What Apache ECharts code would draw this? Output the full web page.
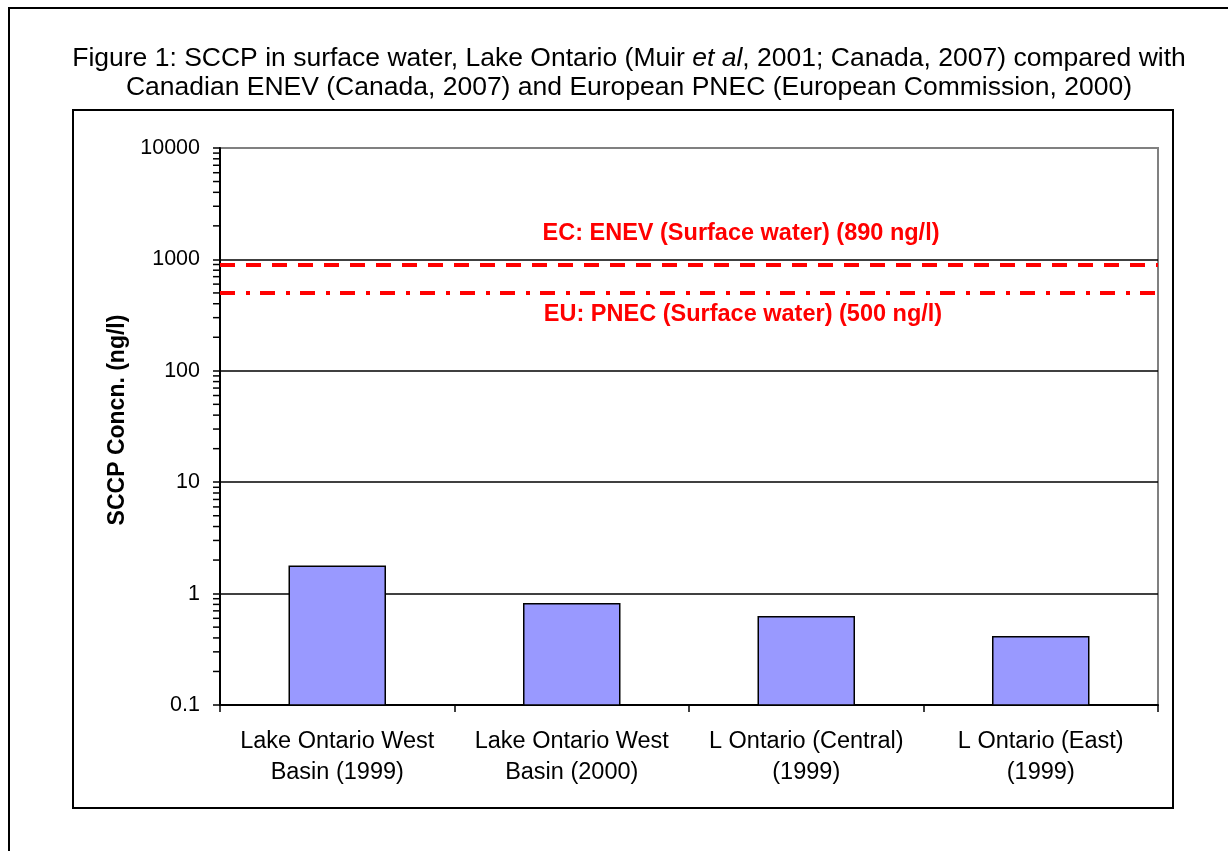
<!DOCTYPE html>
<html>
<head>
<meta charset="utf-8">
<title>SCCP in surface water, Lake Ontario</title>
<script src="https://cdn.jsdelivr.net/npm/echarts@6/dist/echarts.min.js"></script>
<style>
  html, body { margin: 0; padding: 0; background: #ffffff; }
  #chart { width: 1228px; height: 851px; }
</style>
</head>
<body>
<div id="chart"></div>
<script>
// Sampling sites and measured SCCP concentrations (ng/l)
const categories = [
  'Lake Ontario West\nBasin (1999)',
  'Lake Ontario West\nBasin (2000)',
  'L Ontario (Central)\n(1999)',
  'L Ontario (East)\n(1999)'
];
const concentrations = [1.76, 0.81, 0.62, 0.41];

// Reference thresholds (ng/l)
const enevValue = 890;
const pnecValue = 500;

// Log-axis range, decades and minor tick multipliers
const axisMin = 0.1;
const axisMax = 10000;
const decades = [0.1, 1, 10, 100, 1000];
const minorMultipliers = [2, 3, 4, 5, 6, 7, 8, 9];

const FONT = '"Liberation Sans", Arial, sans-serif';
const BAR_WIDTH = 96;

const minorTickValues = [];
decades.forEach(d => minorMultipliers.forEach(m => minorTickValues.push(+(d * m).toPrecision(3))));

const chart = echarts.init(document.getElementById('chart'), null, { renderer: 'canvas' });

const option = {
  backgroundColor: '#ffffff',
  animation: false,
  textStyle: { fontFamily: FONT, color: '#000' },
  title: {
    left: 624,
    textAlign: 'center',
    top: 39,
    text: '{n|Figure 1: SCCP in surface water, Lake Ontario (Muir }{i|et al}{n|, 2001; Canada, 2007) compared with}\n{n|Canadian ENEV (Canada, 2007) and European PNEC (European Commission, 2000)}',
    textStyle: {
      fontWeight: 'normal',
      rich: {
        n: { fontFamily: FONT, fontSize: 26.5, fontWeight: 'normal', color: '#000', lineHeight: 29 },
        i: { fontFamily: FONT, fontSize: 26.5, fontWeight: 'normal', color: '#000', lineHeight: 29, fontStyle: 'italic' }
      }
    }
  },
  grid: {
    left: 220, top: 148, right: 70, bottom: 146,
    show: true,
    borderColor: '#808080',
    borderWidth: 2,
    backgroundColor: 'transparent'
  },
  xAxis: {
    type: 'category',
    data: categories,
    axisLine: { lineStyle: { color: '#000', width: 2 } },
    axisTick: { show: true, interval: 0, alignWithLabel: false, length: 7, lineStyle: { color: '#000', width: 1.5 } },
    axisLabel: {
      interval: 0,
      color: '#000', fontFamily: FONT, fontSize: 23.5, lineHeight: 31, margin: 21
    },
    splitLine: { show: false }
  },
  yAxis: {
    type: 'log',
    logBase: 10,
    min: axisMin,
    max: axisMax,
    axisLine: { show: true, lineStyle: { color: '#000', width: 2 } },
    axisTick: { show: true, length: 7, lineStyle: { color: '#000', width: 1.5 } },
    axisLabel: {
      color: '#000', fontFamily: FONT, fontSize: 21.5, margin: 20,
      formatter: v => (v < 1 ? String(+v.toPrecision(2)) : String(Math.round(v)))
    },
    splitLine: { show: true, showMinLine: false, showMaxLine: false, lineStyle: { color: '#000', width: 1.5 } },
    minorTick: { show: false }
  },
  graphic: [
    // outer figure frame
    {
      type: 'rect', silent: true, z: -10,
      shape: { x: 9, y: 8, width: 1300, height: 900 },
      style: { fill: 'none', stroke: '#000', lineWidth: 2 }
    },
    // chart area frame
    {
      type: 'rect', silent: true, z: -10,
      shape: { x: 73, y: 110, width: 1100, height: 698 },
      style: { fill: 'none', stroke: '#000', lineWidth: 2 }
    },
    {
      type: 'text', silent: true,
      x: 118, y: 420, rotation: Math.PI / 2,
      style: {
        text: 'SCCP Concn. (ng/l)',
        font: 'bold 23px ' + FONT,
        fill: '#000',
        align: 'center',
        verticalAlign: 'middle'
      }
    }
  ],
  series: [
    {
      // bars rise from the bottom of the log axis
      type: 'custom',
      z: 3,
      data: concentrations.map((v, i) => [i, v]),
      encode: { x: 0, y: 1 },
      renderItem: function (params, api) {
        const i = api.value(0);
        const top = api.coord([i, api.value(1)]);
        const base = api.coord([i, axisMin]);
        return {
          type: 'rect',
          shape: { x: top[0] - BAR_WIDTH / 2, y: top[1], width: BAR_WIDTH, height: base[1] - top[1] },
          style: { fill: '#9999ff', stroke: '#000', lineWidth: 1.5 }
        };
      },
      markLine: {
        silent: true,
        symbol: ['none', 'none'],
        z: 5,
        data: [
          {
            yAxis: enevValue,
            lineStyle: { color: '#ff0000', width: 4, type: [15, 11] },
            label: {
              show: true,
              position: 'insideMiddleTop',
              formatter: 'EC: ENEV (Surface water) (' + enevValue + ' ng/l)',
              color: '#ff0000', fontFamily: FONT, fontWeight: 'bold', fontSize: 23.5,
              offset: [52, -15]
            }
          },
          {
            yAxis: pnecValue,
            lineStyle: { color: '#ff0000', width: 4, type: [15, 11, 4, 10] },
            label: {
              show: true,
              position: 'insideMiddleBottom',
              formatter: 'EU: PNEC (Surface water) (' + pnecValue + ' ng/l)',
              color: '#ff0000', fontFamily: FONT, fontWeight: 'bold', fontSize: 23.5,
              offset: [54, 5]
            }
          }
        ]
      }
    },
    {
      // logarithmic minor ticks on the value axis
      type: 'custom',
      silent: true,
      z: 4,
      data: minorTickValues.map(v => [0, v]),
      renderItem: function (params, api) {
        const y = api.coord([0, api.value(1)])[1];
        const x0 = params.coordSys.x;
        return {
          type: 'line',
          shape: { x1: x0 - 7, y1: y, x2: x0, y2: y },
          style: { stroke: '#000', lineWidth: 1.5 }
        };
      }
    }
  ]
};

chart.setOption(option);
</script>
</body>
</html>
